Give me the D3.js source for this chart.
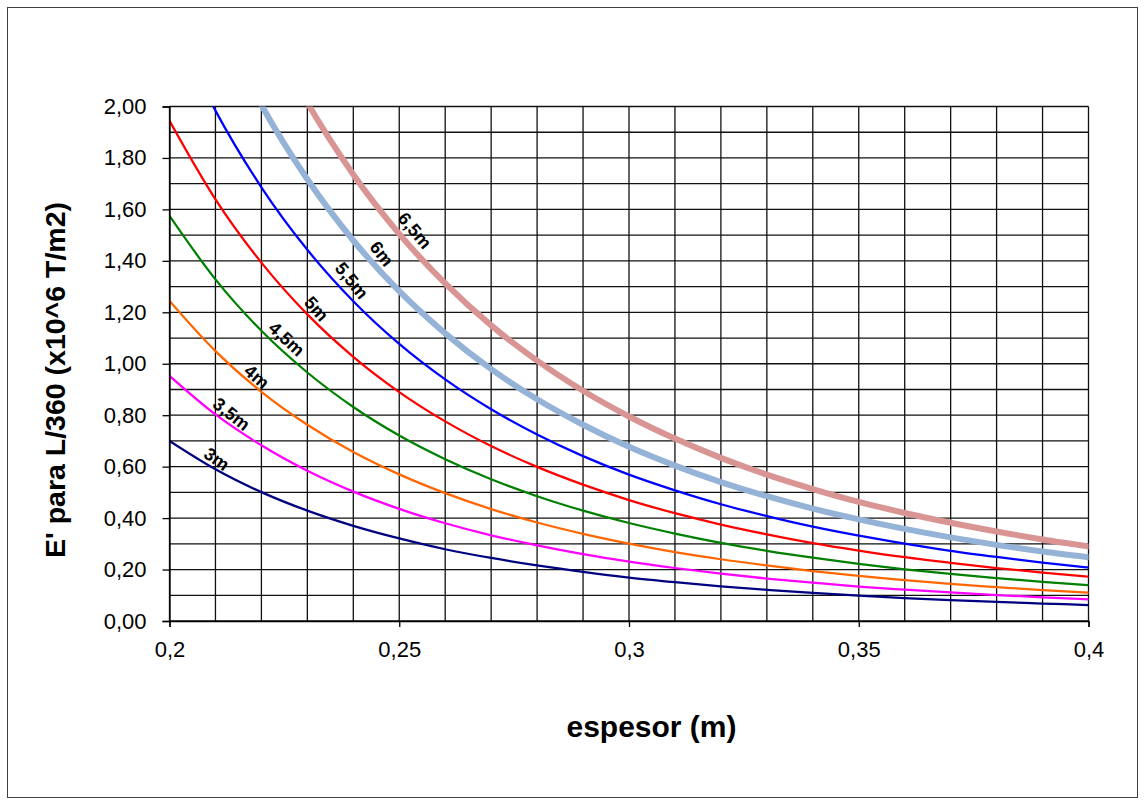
<!DOCTYPE html>
<html>
<head>
<meta charset="utf-8">
<script src="https://cdn.jsdelivr.net/npm/d3@7"></script>
<style>
  html, body { margin: 0; padding: 0; background: #fff; }
  svg { display: block; }
  text { font-family: "Liberation Sans", Arial, sans-serif; }
</style>
</head>
<body>
<svg id="chart" width="1145" height="805"></svg>
<script>
// Slab thickness (m) at which each span curve is tabulated
const thickness = [0.20, 0.21, 0.22, 0.23, 0.24, 0.25, 0.26, 0.27, 0.28, 0.29, 0.30,
                   0.31, 0.32, 0.33, 0.34, 0.35, 0.36, 0.37, 0.38, 0.39, 0.40];

// Span names (one curve per span)
const spanNames = ["3m", "3,5m", "4m", "4,5m", "5m", "5,5m", "6m", "6,5m"];

// E' required for L/360 (x10^6 T/m2), one array per span
const span3_0 = [0.700, 0.590, 0.501, 0.429, 0.370, 0.321, 0.279, 0.245, 0.216, 0.191, 0.169,
                 0.151, 0.135, 0.121, 0.109, 0.099, 0.089, 0.081, 0.074, 0.068, 0.062];
const span3_5 = [0.953, 0.803, 0.683, 0.584, 0.503, 0.436, 0.380, 0.333, 0.294, 0.260, 0.231,
                 0.206, 0.184, 0.165, 0.149, 0.134, 0.122, 0.111, 0.101, 0.092, 0.084];
const span4_0 = [1.244, 1.049, 0.891, 0.763, 0.657, 0.570, 0.497, 0.435, 0.383, 0.339, 0.301,
                 0.268, 0.240, 0.216, 0.194, 0.175, 0.159, 0.144, 0.132, 0.120, 0.110];
const span4_5 = [1.575, 1.328, 1.128, 0.966, 0.832, 0.721, 0.629, 0.551, 0.485, 0.429, 0.381,
                 0.340, 0.304, 0.273, 0.246, 0.222, 0.201, 0.183, 0.167, 0.152, 0.139];
const span5_0 = [1.944, 1.639, 1.393, 1.192, 1.027, 0.890, 0.776, 0.680, 0.599, 0.530, 0.470,
                 0.419, 0.375, 0.337, 0.303, 0.274, 0.248, 0.226, 0.206, 0.188, 0.172];
const span5_5 = [2.353, 1.984, 1.686, 1.443, 1.243, 1.077, 0.939, 0.823, 0.725, 0.641, 0.569,
                 0.508, 0.454, 0.408, 0.367, 0.332, 0.301, 0.273, 0.249, 0.227, 0.208];
const span6_0 = [2.800, 2.360, 2.006, 1.717, 1.479, 1.282, 1.118, 0.979, 0.862, 0.763, 0.677,
                 0.604, 0.540, 0.485, 0.437, 0.395, 0.358, 0.325, 0.296, 0.270, 0.248];
const span6_5 = [3.286, 2.770, 2.354, 2.015, 1.736, 1.505, 1.312, 1.149, 1.012, 0.895, 0.795,
                 0.709, 0.634, 0.569, 0.513, 0.463, 0.420, 0.382, 0.348, 0.317, 0.290];

// Axis tick labels
const xTickValues = [0.20, 0.25, 0.30, 0.35, 0.40];
const xTickLabels = ["0,2", "0,25", "0,3", "0,35", "0,4"];
const yTickValues = [0.0, 0.2, 0.4, 0.6, 0.8, 1.0, 1.2, 1.4, 1.6, 1.8, 2.0];
const yTickLabels = ["0,00", "0,20", "0,40", "0,60", "0,80", "1,00", "1,20", "1,40", "1,60", "1,80", "2,00"];

const seriesValues = [span3_0, span3_5, span4_0, span4_5, span5_0, span5_5, span6_0, span6_5];

// Appearance of each curve
const seriesStyle = [
  { color: "#000080", width: 2.25 },
  { color: "#FF00FF", width: 2.25 },
  { color: "#FF6600", width: 2.25 },
  { color: "#008000", width: 2.25 },
  { color: "#FF0000", width: 2.25 },
  { color: "#0000FF", width: 2.25 },
  { color: "#95B3D7", width: 6 },
  { color: "#D99594", width: 6 }
];

// Where each span name sits along its curve (data coords) and its tilt
const labelLayout = [
  { x: 0.2103, y: 0.630, angle: 36 },
  { x: 0.2135, y: 0.805, angle: 38 },
  { x: 0.2190, y: 0.950, angle: 41 },
  { x: 0.2255, y: 1.097, angle: 43 },
  { x: 0.2320, y: 1.214, angle: 48 },
  { x: 0.2397, y: 1.324, angle: 51 },
  { x: 0.2462, y: 1.428, angle: 52 },
  { x: 0.2534, y: 1.518, angle: 50 }
];

const svg = d3.select("#chart");

// chart-area frame
svg.append("rect")
  .attr("x", 7.5).attr("y", 7.5)
  .attr("width", 1130).attr("height", 790)
  .attr("fill", "#fff")
  .attr("stroke", "#404040")
  .attr("stroke-width", 1);

const plot = { left: 169.5, top: 106.5, width: 919, height: 514.5 };

const x = d3.scaleLinear().domain([0.2, 0.4]).range([plot.left, plot.left + plot.width]);
const y = d3.scaleLinear().domain([0, 2]).range([plot.top + plot.height, plot.top]);

// gridlines: every 0.01 m horizontally, every 0.1 vertically
const xGrid = d3.range(0, 21).map(i => 0.2 + i * 0.01);
const yGrid = d3.range(0, 21).map(i => i * 0.1);

const grid = svg.append("g").attr("stroke", "#111").attr("stroke-width", 1.3);
grid.selectAll("line.v").data(xGrid).join("line")
  .attr("class", "v")
  .attr("x1", d => x(d)).attr("x2", d => x(d))
  .attr("y1", y(0)).attr("y2", y(2));
grid.selectAll("line.h").data(yGrid).join("line")
  .attr("class", "h")
  .attr("x1", x(0.2)).attr("x2", x(0.4))
  .attr("y1", d => y(d)).attr("y2", d => y(d));

// curves, clipped to the plot area
svg.append("clipPath").attr("id", "plotClip")
  .append("rect")
  .attr("x", plot.left).attr("y", plot.top)
  .attr("width", plot.width).attr("height", plot.height);

const line = d3.line()
  .x(d => x(d[0]))
  .y(d => y(d[1]))
  .curve(d3.curveMonotoneX);

const curves = svg.append("g").attr("clip-path", "url(#plotClip)");
seriesValues.forEach((vals, i) => {
  curves.append("path")
    .datum(thickness.map((t, j) => [t, vals[j]]))
    .attr("d", line)
    .attr("fill", "none")
    .attr("stroke", seriesStyle[i].color)
    .attr("stroke-width", seriesStyle[i].width)
    .attr("stroke-linejoin", "round")
    .attr("stroke-linecap", "round");
});

// axes
const xAxis = d3.axisBottom(x)
  .tickValues(xTickValues)
  .tickFormat((d, i) => xTickLabels[i])
  .tickSize(6)
  .tickPadding(14);
const gx = svg.append("g")
  .attr("transform", `translate(0,${y(0)})`)
  .call(xAxis);
gx.select(".domain").attr("stroke", "#000").attr("stroke-width", 1.3);
gx.selectAll(".tick line").attr("stroke", "#000").attr("stroke-width", 1.3);
gx.selectAll(".tick text")
  .attr("font-family", "Liberation Sans, Arial, sans-serif")
  .attr("font-size", 22)
  .attr("fill", "#000");

const yAxis = d3.axisLeft(y)
  .tickValues(yTickValues)
  .tickFormat((d, i) => yTickLabels[i])
  .tickSize(7)
  .tickPadding(16);
const gy = svg.append("g")
  .attr("transform", `translate(${x(0.2)},0)`)
  .call(yAxis);
gy.select(".domain").attr("stroke", "#000").attr("stroke-width", 1.3);
gy.selectAll(".tick line").attr("stroke", "#000").attr("stroke-width", 1.3);
gy.selectAll(".tick text")
  .attr("font-family", "Liberation Sans, Arial, sans-serif")
  .attr("font-size", 22)
  .attr("fill", "#000");

// span names along the curves
svg.append("g").selectAll("text").data(spanNames).join("text")
  .attr("transform", (d, i) =>
    `translate(${x(labelLayout[i].x)},${y(labelLayout[i].y)}) rotate(${labelLayout[i].angle})`)
  .attr("text-anchor", "middle")
  .attr("dy", "0.35em")
  .attr("font-size", 18)
  .attr("font-weight", "bold")
  .attr("fill", "#000")
  .text(d => d);

// axis titles
svg.append("text")
  .attr("x", 651.5).attr("y", 737)
  .attr("text-anchor", "middle")
  .attr("font-size", 30)
  .attr("font-weight", "bold")
  .text("espesor (m)");

svg.append("text")
  .attr("transform", "translate(65,380) rotate(-90)")
  .attr("text-anchor", "middle")
  .attr("font-size", 28.5)
  .attr("font-weight", "bold")
  .text("E' para L/360 (x10^6 T/m2)");
</script>
</body>
</html>
